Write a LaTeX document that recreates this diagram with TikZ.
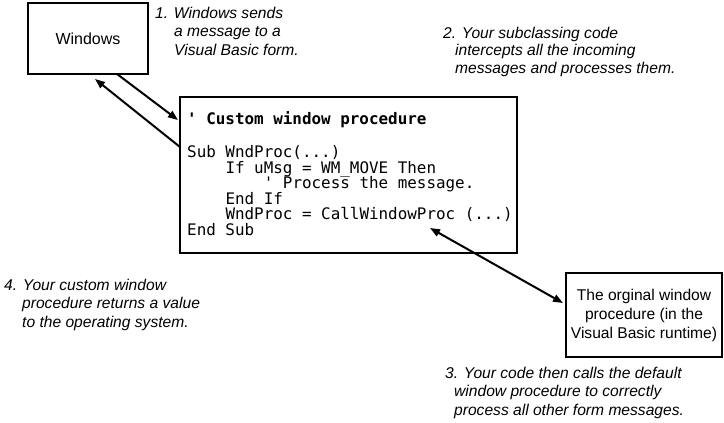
\documentclass[tikz,border=0pt]{standalone}
\usepackage{fontspec}
\setmainfont{Liberation Sans}
\newfontfamily\codefont{DejaVu Sans Mono}
\usetikzlibrary{arrows.meta}
\tikzset{
  box/.style={draw=black, line width=2pt, inner sep=0pt, outer sep=0pt, anchor=north west},
  arr/.style={line width=2pt, -{Triangle[length=10pt,width=7.5pt]}},
  darr/.style={line width=2pt, {Triangle[length=10pt,width=7.5pt]}-{Triangle[length=10pt,width=7.5pt]}},
  lbl/.style={anchor=base west, inner sep=0pt, font=\fontsize{15.6}{18.5}\selectfont\itshape},
  codeln/.style={anchor=base west, inner sep=0pt, font=\codefont\fontsize{15.9}{15.5}\selectfont},
  codetitle/.style={anchor=base west, inner sep=0pt, font=\codefont\bfseries\fontsize{15.9}{15.5}\selectfont},
}
\begin{document}
\begin{tikzpicture}[x=1pt,y=-1pt]
\useasboundingbox (0,0) rectangle (724,423);
% boxes
\node[box, minimum width=120pt, minimum height=71pt, font=\fontsize{16}{19}\selectfont] (win) at (28,3) {Windows};
\node[box, minimum width=337pt, minimum height=156pt] (code) at (180,97) {};
\node[box, minimum width=156pt, minimum height=84pt, align=center, font=\fontsize{15.6}{19}\selectfont] (orig) at (566,273) {The orginal window\\procedure (in the\\Visual Basic runtime)};
% code text
\node[codetitle] (c0) at (187,124) {' Custom window procedure};
\node[codeln] (c1) at (187,157) {Sub WndProc(...)};
\node[codeln] (c2) at (225.3,173) {If uMsg = WM\_MOVE Then};
\node[codeln] (c3) at (263.6,188) {' Process the message.};
\node[codeln] (c4) at (225.3,204) {End If};
\node[codeln] (c5) at (225.3,219) {WndProc = CallWindowProc (...)};
\node[codeln] (c6) at (187,235) {End Sub};
% labels
\node[lbl] (l1a) at (155,18) {1. Windows sends};
\node[lbl] (l1b) at (174,37) {a message to a};
\node[lbl] (l1c) at (174,55) {Visual Basic form.};
\node[lbl] (l2a) at (443,38) {2. Your subclassing code};
\node[lbl] (l2b) at (455,56) {intercepts all the incoming};
\node[lbl] (l2c) at (455,74) {messages and processes them.};
\node[lbl] (l4a) at (4,290) {4. Your custom window};
\node[lbl] (l4b) at (22,308) {procedure returns a value};
\node[lbl] (l4c) at (22,327) {to the operating system.};
\node[lbl] (l3a) at (445,378) {3. Your code then calls the default};
\node[lbl] (l3b) at (454,396.5) {window procedure to correctly};
\node[lbl] (l3c) at (454,415) {process all other form messages.};
% connectors
\coordinate (ret) at ([xshift=67pt,yshift=-5pt]win.south west);
\draw[arr] ([xshift=89pt]win.south west) -- ([xshift=-2pt,yshift=-23pt]code.north west);
\draw[arr] ([yshift=-50pt]code.north west) -- (ret);
\draw[darr] ([xshift=-87pt,yshift=25pt]code.south east) -- ([xshift=-3pt,yshift=-30pt]orig.north west);
\end{tikzpicture}
\end{document}
